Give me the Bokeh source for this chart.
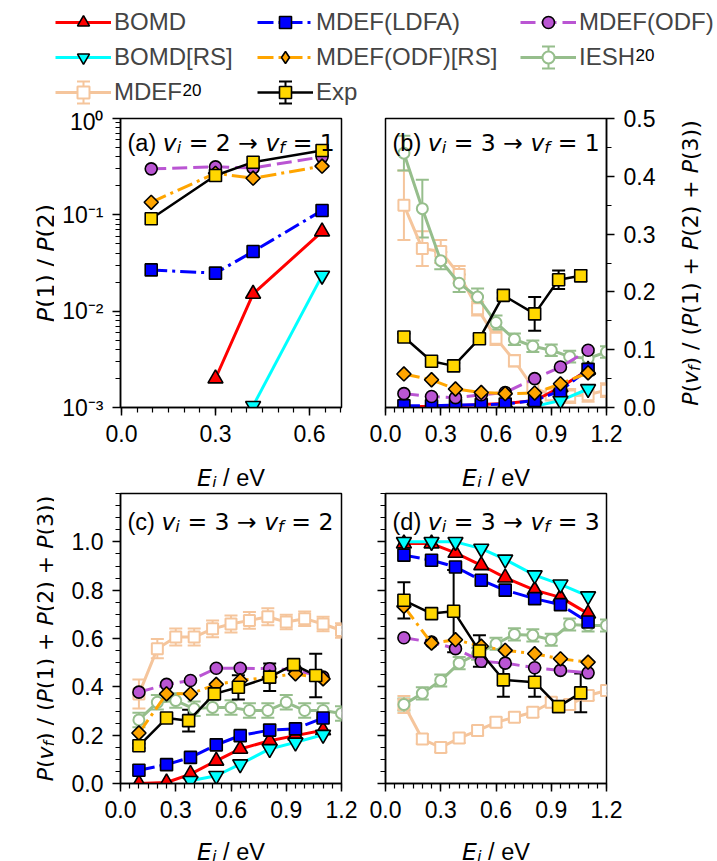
import numpy as np
from math import pi
from bokeh.plotting import figure
from bokeh.models import (ColumnDataSource, Range1d, SingleIntervalTicker, FixedTicker,
                          PrintfTickFormatter, CustomJSTickFormatter, Whisker, TeeHead,
                          Label, Legend, LegendItem, LogTicker)
from bokeh.layouts import column, row
from bokeh.embed import file_html
from bokeh.resources import INLINE

nan = float("nan")

# ---------------- data ----------------
E_a = [0.095, 0.30, 0.42, 0.64]
E_calc = [0.10, 0.25, 0.38, 0.52, 0.65, 0.81, 0.95, 1.10]
E_exp = [0.10, 0.25, 0.37, 0.51, 0.64, 0.81, 0.94, 1.06]
E_ref = [0.1, 0.2, 0.3, 0.4, 0.5, 0.6, 0.7, 0.8, 0.9, 1.0, 1.1, 1.2]

# (a) v=2 -> 1, ratio P(1)/P(2)
a_bomd = [nan, 0.0020, 0.0151, 0.067]
a_bomd_rs = [nan, nan, 0.00104, 0.0234]
a_ldfa = [0.0268, 0.0248, 0.0416, 0.111]
a_odf = [0.30, 0.315, 0.307, 0.40]
a_odf_rs = [0.135, 0.27, 0.24, 0.32]
a_exp = [0.091, 0.256, 0.352, 0.466]

# (b) v=3 -> 1
b_bomd = [0.001, 0.002, 0.003, 0.005, 0.007, 0.012, 0.035, 0.065]
b_bomd_rs = [nan, nan, nan, nan, nan, 0.002, 0.012, 0.032]
b_ldfa = [0.003, 0.003, 0.004, 0.005, 0.006, 0.012, 0.029, 0.066]
b_odf = [0.024, 0.019, 0.017, 0.022, 0.026, 0.050, 0.070, 0.099]
b_odf_rs = [0.058, 0.048, 0.032, 0.026, 0.024, 0.025, 0.041, 0.060]
b_exp = [0.122, 0.080, 0.072, 0.119, 0.194, 0.162, 0.221, 0.228]
b_exp_err = [0.006, 0.005, 0.005, 0.005, 0.005, 0.029, 0.016, 0.010]
b_iesh = [0.44, 0.344, 0.254, 0.215, 0.191, 0.147, 0.118, 0.106, 0.099, 0.088, 0.085, 0.096]
b_iesh_err = [0.03, 0.05, 0.015, 0.015, 0.015, 0.012, 0.01, 0.01, 0.01, 0.01, 0.01, 0.01]
b_mdef20 = [0.35, 0.275, 0.27, 0.23, 0.171, 0.12, 0.081, 0.035, 0.022, 0.02, 0.022, 0.03]
b_mdef20_err = [0.06, 0.03, 0.02, 0.015, 0.012, 0.012, 0.01, 0.01, 0.01, 0.012, 0.012, 0.012]

# (c) v=3 -> 2
c_bomd = [0.0, 0.004, 0.039, 0.094, 0.143, 0.177, 0.198, 0.22]
c_bomd_rs = [nan, nan, 0.011, 0.032, 0.08, 0.143, 0.17, 0.202]
c_ldfa = [0.055, 0.078, 0.108, 0.16, 0.198, 0.221, 0.226, 0.271]
c_odf = [0.378, 0.41, 0.426, 0.477, 0.477, 0.475, 0.47, 0.44]
c_odf_rs = [0.209, 0.371, 0.371, 0.41, 0.426, 0.44, 0.454, 0.433]
c_exp = [0.156, 0.271, 0.26, 0.371, 0.398, 0.44, 0.492, 0.447]
c_exp_err = [0.01, 0.01, 0.045, 0.02, 0.05, 0.057, 0.01, 0.09]
c_iesh = [0.263, 0.336, 0.343, 0.309, 0.315, 0.315, 0.302, 0.302, 0.336, 0.302, 0.302, 0.29]
c_iesh_err = [0.03] * 12
c_mdef20 = [0.37, 0.558, 0.606, 0.606, 0.64, 0.66, 0.675, 0.69, 0.668, 0.682, 0.66, 0.633]
c_mdef20_err = [0.06, 0.04, 0.035, 0.035, 0.035, 0.035, 0.035, 0.035, 0.03, 0.03, 0.03, 0.03]

# (d) v=3 -> 3
d_bomd = [0.993, 0.993, 0.954, 0.903, 0.852, 0.80, 0.77, 0.703]
d_bomd_rs = [1.0, 1.0, 1.0, 0.972, 0.927, 0.862, 0.824, 0.775]
d_ldfa = [0.945, 0.924, 0.896, 0.841, 0.80, 0.765, 0.74, 0.668]
d_odf = [0.603, 0.585, 0.558, 0.506, 0.498, 0.479, 0.468, 0.458]
d_odf_rs = [0.733, 0.581, 0.595, 0.568, 0.551, 0.537, 0.516, 0.502]
d_exp = [0.758, 0.703, 0.713, 0.548, 0.429, 0.419, 0.318, 0.375]
d_exp_err = [0.075, 0.02, 0.17, 0.065, 0.07, 0.06, 0.01, 0.08]
d_iesh = [0.327, 0.373, 0.426, 0.498, 0.537, 0.578, 0.617, 0.613, 0.595, 0.658, 0.654, 0.654]
d_iesh_err = [0.025] * 12
d_mdef20 = [0.327, 0.184, 0.149, 0.188, 0.219, 0.253, 0.274, 0.295, 0.336, 0.327, 0.364, 0.385]
d_mdef20_err = [0.035, 0.02, 0.02, 0.02, 0.02, 0.02, 0.02, 0.02, 0.02, 0.02, 0.02, 0.02]

# ---------------- styles ----------------
LB = "Liberation Sans"
DJ = "DejaVu Sans"
PEACH = "#f5c59c"
GREEN = "#96be8c"
NB = "\u00a0"

STY = {
    "BOMD": dict(color="#ff0000", marker="triangle", size=15, angle=0.0, dash="solid", fill="#ff0000", lw=3),
    "BOMD[RS]": dict(color="#00ffff", marker="inverted_triangle", size=15, angle=0.0, dash="solid", fill="#00ffff", lw=3),
    "MDEF(LDFA)": dict(color="#0000ff", marker="square", size=12, angle=0.0, dash="16 5 3 5", fill="#0000ff", lw=3),
    "MDEF(ODF)": dict(color="#ba55d3", marker="circle", size=12, angle=0.0, dash="15 6", fill="#ba55d3", lw=3),
    "MDEF(ODF)[RS]": dict(color="#ffa500", marker="square", size=10, angle=pi / 4, dash="16 5 3 5", fill="#ffa500",
                          lw=3, lmarker="diamond"),
    "Exp": dict(color="black", marker="square", size=12, angle=0.0, dash="solid", fill="#ffd700", lw=2.5),
    "IESH": dict(color=GREEN, marker="circle", size=11, angle=0.0, dash="solid", fill="white", lw=3),
    "MDEF": dict(color=PEACH, marker="square", size=11, angle=0.0, dash="solid", fill="white", lw=3),
}
OPEN = {"IESH", "MDEF"}


def whisker(p, x, lo, hi, color):
    wsrc = ColumnDataSource(dict(x=x, lo=lo, hi=hi))
    w = Whisker(base="x", lower="lo", upper="hi", source=wsrc, dimension="height",
                line_color=color, line_width=2,
                upper_head=TeeHead(size=13, line_color=color, line_width=2),
                lower_head=TeeHead(size=13, line_color=color, line_width=2))
    p.add_layout(w)


def draw(p, x, y, key, err=None):
    s = STY[key]
    x = np.asarray(x, dtype=float)
    y = np.asarray(y, dtype=float)
    src = ColumnDataSource(dict(x=x, y=y))
    if err is not None:
        e = np.asarray(err, dtype=float)
        whisker(p, x, y - e, y + e, s["color"])
    p.line("x", "y", source=src, line_color=s["color"], line_width=s["lw"], line_dash=s["dash"])
    edge = s["color"] if key in OPEN else "black"
    p.scatter("x", "y", source=src, marker=s["marker"], size=s["size"], angle=s["angle"],
              fill_color=s["fill"], line_color=edge, line_width=2 if key in OPEN else 1.6)


# ---------------- rich text helper ----------------
W_LB = {' ': 278, NB: 278, '(': 333, ')': 333, '/': 278, '+': 584, '=': 584, '.': 278, 'a': 556,
        'b': 556, 'c': 500, 'd': 556, 'e': 556, 'V': 667, 'E': 667, 'P': 667, 'v': 500, 'i': 222,
        'f': 278, 'M': 833, 'D': 722, 'F': 611, 'I': 278, 'S': 667, 'H': 722, '\u2192': 1000}
W_DJ = {' ': 318, NB: 318, '(': 390, ')': 390, '/': 337, '+': 838, '=': 838, '.': 318, 'P': 603,
        'E': 632, 'e': 615, 'V': 684, 'v': 592, 'i': 278, 'f': 352, '\u2192': 838}


def text_w(s, font, size):
    tab = W_DJ if font == DJ else W_LB
    dig = 636 if font == DJ else 556
    return sum(tab.get(c, dig if c.isdigit() else 600) for c in s) * size / 1000.0


def rich(p, pieces, x, y, size, angle=0.0, center=False):
    items = []
    total = 0.0
    for txt, font, ital, scr in pieces:
        txt = txt.replace(" ", NB)
        fs = size * 0.7 if scr else size
        w = text_w(txt, font, fs)
        items.append((txt, font, ital, scr, fs, w))
        total += w
    pos = -total / 2 if center else 0.0
    for txt, font, ital, scr, fs, w in items:
        off = -0.22 * size if scr == "sub" else (0.42 * size if scr == "sup" else 0.0)
        if angle == 0:
            lx, ly = x + pos, y + off
        else:
            lx, ly = x - off, y + pos
        p.add_layout(Label(x=lx, y=ly, x_units="screen", y_units="screen", text=txt,
                           text_font=font, text_font_size=f"{fs:.1f}px",
                           text_font_style="italic" if ital else "normal",
                           text_baseline="alphabetic", text_align="left", angle=angle,
                           text_color="black"))
        pos += w


# ---------------- figure helpers ----------------
TICK_FS = "23px"


def style_axis(ax):
    ax.axis_line_width = 1.5
    ax.axis_line_color = "black"
    ax.major_tick_line_width = 1.5
    ax.minor_tick_line_width = 1.2
    ax.major_tick_out = 8
    ax.major_tick_in = 0
    ax.minor_tick_out = 5
    ax.minor_tick_in = 0
    ax.major_label_text_font = LB
    ax.major_label_text_font_size = TICK_FS
    ax.major_label_text_color = "black"
    ax.major_label_standoff = 9


def make_fig(width, height, bl, br, bt, bb, xr, yr, y_type="linear", y_loc="left"):
    p = figure(width=width, height=height, x_range=xr, y_range=yr, y_axis_type=y_type,
               y_axis_location=y_loc, output_backend="svg", toolbar_location=None,
               min_border_left=bl, min_border_right=br, min_border_top=bt, min_border_bottom=bb)
    p.grid.visible = False
    p.outline_line_color = "black"
    p.outline_line_width = 1.5
    p.background_fill_color = "white"
    p.border_fill_color = "white"
    for ax in p.xaxis:
        style_axis(ax)
        ax.ticker = SingleIntervalTicker(interval=0.3, num_minor_ticks=6)
        ax.formatter = PrintfTickFormatter(format="%.1f")
    for ax in p.yaxis:
        style_axis(ax)
    return p


def strip(w, h):
    f = figure(width=w, height=h, x_range=Range1d(0, w), y_range=Range1d(0, h),
               output_backend="svg", toolbar_location=None, x_axis_location=None,
               y_axis_location=None, min_border=0)
    f.outline_line_color = None
    f.grid.visible = False
    f.background_fill_color = "white"
    f.border_fill_color = "white"
    return f


yc_major = [0.0, 0.2, 0.4, 0.6, 0.8, 1.0]
yc_minor = [round(k * 0.05, 2) for k in range(25)]

# row 1 panels (frame 289 px tall)
fa = make_fig(309, 345, 66, 22, 10, 46, Range1d(-0.003, 0.702), Range1d(1e-3, 1.0), y_type="log")
fa.yaxis.ticker = LogTicker(num_minor_ticks=10)
fa.yaxis.formatter = CustomJSTickFormatter(code=r"""
const e = Math.round(Math.log10(tick));
const m = {"0":"\u2070","1":"\u00b9","2":"\u00b2","3":"\u00b3","4":"\u2074","5":"\u2075","-":"\u207b"};
return "10" + String(e).split("").map(c => m[c]).join("");
""")

fb = make_fig(297, 345, 22, 54, 10, 46, Range1d(0, 1.2), Range1d(0, 0.5), y_loc="right")
fb.yaxis.ticker = SingleIntervalTicker(interval=0.1, num_minor_ticks=2)
fb.yaxis.formatter = PrintfTickFormatter(format="%.1f")

# row 2 panels (frame 290 px tall)
fc = make_fig(309, 342, 66, 22, 6, 46, Range1d(0, 1.2), Range1d(0, 1.2))
fc.yaxis.ticker = FixedTicker(ticks=yc_major, minor_ticks=yc_minor)
fc.yaxis.formatter = PrintfTickFormatter(format="%.1f")

fd = make_fig(354, 342, 22, 111, 6, 46, Range1d(0, 1.2), Range1d(0, 1.2))
fd.yaxis.ticker = FixedTicker(ticks=yc_major, minor_ticks=yc_minor)
fd.yaxis.formatter = CustomJSTickFormatter(code="return '';")

# ---------------- draw series ----------------
draw(fa, E_a, a_bomd, "BOMD")
draw(fa, E_a, a_bomd_rs, "BOMD[RS]")
draw(fa, E_a, a_ldfa, "MDEF(LDFA)")
draw(fa, E_a, a_odf, "MDEF(ODF)")
draw(fa, E_a, a_odf_rs, "MDEF(ODF)[RS]")
draw(fa, E_a, a_exp, "Exp")

for p, mdef, mdef_e, iesh, iesh_e, bomd, bomd_rs, ldfa, odf, odf_rs, ex, ex_e in [
    (fb, b_mdef20, b_mdef20_err, b_iesh, b_iesh_err, b_bomd, b_bomd_rs, b_ldfa, b_odf, b_odf_rs, b_exp, b_exp_err),
    (fc, c_mdef20, c_mdef20_err, c_iesh, c_iesh_err, c_bomd, c_bomd_rs, c_ldfa, c_odf, c_odf_rs, c_exp, c_exp_err),
    (fd, d_mdef20, d_mdef20_err, d_iesh, d_iesh_err, d_bomd, d_bomd_rs, d_ldfa, d_odf, d_odf_rs, d_exp, d_exp_err),
]:
    draw(p, E_ref, mdef, "MDEF", mdef_e)
    draw(p, E_ref, iesh, "IESH", iesh_e)
    draw(p, E_calc, bomd, "BOMD")
    draw(p, E_calc, bomd_rs, "BOMD[RS]")
    draw(p, E_calc, ldfa, "MDEF(LDFA)")
    draw(p, E_calc, odf, "MDEF(ODF)")
    draw(p, E_calc, odf_rs, "MDEF(ODF)[RS]")
    draw(p, E_exp, ex, "Exp", ex_e)

# ---------------- texts ----------------
FS = 23.5
for p, tag, vi, vf, fh, off in [(fa, "a", "2", "1", 289, 24), (fb, "b", "3", "1", 289, 24),
                                 (fc, "c", "3", "2", 290, 28), (fd, "d", "3", "3", 290, 28)]:
    rich(p, [(f"({tag}) ", LB, False, None), ("v", DJ, True, None), ("i", DJ, True, "sub"),
             (f" = {vi} \u2192 ", DJ, False, None), ("v", DJ, True, None), ("f", DJ, True, "sub"),
             (f" = {vf}", DJ, False, None)], 7, fh - off, FS)

x_label = [("E", DJ, True, None), ("i", DJ, True, "sub"), (" / eV", LB, False, None)]
ratio_label = [("P", DJ, True, None), ("(1) / ", DJ, False, None), ("P", DJ, True, None),
               ("(2)", DJ, False, None)]
long_label = [("P", DJ, True, None), ("(", DJ, False, None), ("v", DJ, True, None), ("f", DJ, True, "sub"),
              (") / (", DJ, False, None), ("P", DJ, True, None), ("(1) + ", DJ, False, None),
              ("P", DJ, True, None), ("(2) + ", DJ, False, None), ("P", DJ, True, None),
              ("(3))", DJ, False, None)]

# label strips: their frames line up with the panel frames of the same row
yl1 = strip(54, 345)
rich(yl1, ratio_label, 45, 144.5, FS, angle=pi / 2, center=True)
yr1 = strip(57, 345)
rich(yr1, long_label, 30, 144.5, 22, angle=pi / 2, center=True)
yl2 = strip(54, 342)
rich(yl2, long_label, 45, 145, 22, angle=pi / 2, center=True)

xl1 = strip(717, 34)
rich(xl1, x_label, 230.5, 10, FS, center=True)
rich(xl1, x_label, 495.5, 10, FS, center=True)
xl2 = strip(717, 32)
rich(xl2, x_label, 230.5, 10, FS, center=True)
rich(xl2, x_label, 495.5, 10, FS, center=True)

# ---------------- legend ----------------
LEG_H = 108
fl = strip(717, LEG_H)
COL_X = [55, 257, 520]
ROW_C = [22, 57, 92]          # row centres, px from the top
GLYPH_W = 56


def leg_item(label, key):
    s = STY[key]
    r1 = fl.line(x=[nan], y=[nan], line_color=s["color"], line_width=s["lw"], line_dash=s["dash"])
    edge = s["color"] if key in OPEN else "black"
    r2 = fl.scatter(x=[nan], y=[nan], marker=s.get("lmarker", s["marker"]), size=s["size"],
                    fill_color=s["fill"], line_color=edge, line_width=2 if key in OPEN else 1.6)
    return LegendItem(label=label, renderers=[r1, r2])


def add_leg(items, col):
    n = len(items)
    top = ROW_C[0] - 15
    bottom = top + n * 30 + (n - 1) * 5
    leg = Legend(items=items, location=(COL_X[col], LEG_H - bottom), orientation="vertical",
                 glyph_width=GLYPH_W, glyph_height=30, label_standoff=3, spacing=5, padding=0,
                 margin=0, border_line_color=None, background_fill_alpha=0, label_text_font=LB,
                 label_text_font_size="24px", label_height=30)
    fl.add_layout(leg)


add_leg([leg_item("BOMD", "BOMD"), leg_item("BOMD[RS]", "BOMD[RS]"), leg_item("MDEF", "MDEF")], 0)
add_leg([leg_item("MDEF(LDFA)", "MDEF(LDFA)"), leg_item("MDEF(ODF)[RS]", "MDEF(ODF)[RS]"),
         leg_item("Exp", "Exp")], 1)
add_leg([leg_item("MDEF(ODF)", "MDEF(ODF)"), leg_item("IESH", "IESH")], 2)

# error-bar symbols of the legend handles (MDEF20, Exp, IESH20)
for col, r, key in [(0, 2, "MDEF"), (1, 2, "Exp"), (2, 1, "IESH")]:
    cx = COL_X[col] + GLYPH_W / 2
    cy = LEG_H - ROW_C[r]
    whisker(fl, [cx], [cy - 11], [cy + 11], STY[key]["color"])

for col, r, word in [(0, 2, "MDEF"), (2, 1, "IESH")]:
    sx = COL_X[col] + GLYPH_W + 3 + text_w(word, LB, 24)
    sy = LEG_H - ROW_C[r] + 3
    fl.add_layout(Label(x=sx, y=sy, x_units="screen", y_units="screen", text="20",
                        text_font=LB, text_font_size="17px", text_baseline="alphabetic",
                        text_align="left", text_color="black"))

layout = column(fl, row(yl1, fa, fb, yr1), xl1, row(yl2, fc, fd), xl2)
open("out.html", "w").write(file_html(layout, INLINE))
